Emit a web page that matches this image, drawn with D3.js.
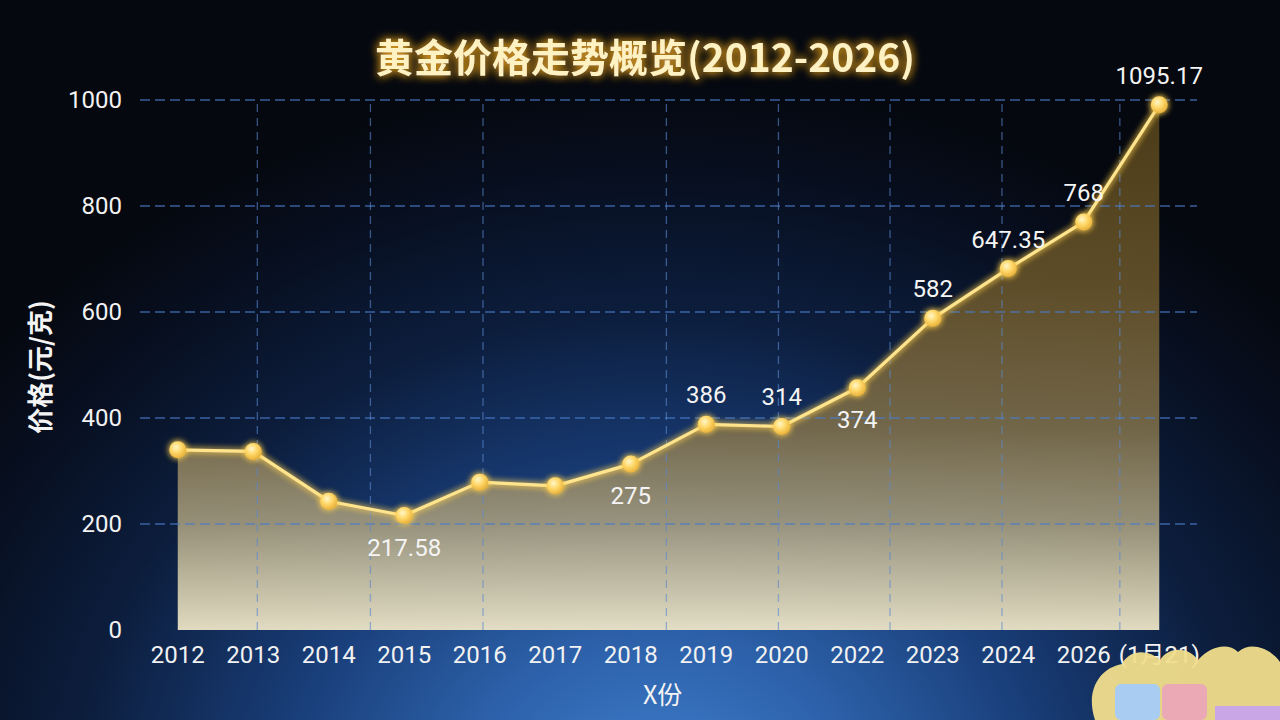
<!DOCTYPE html>
<html>
<head>
<meta charset="utf-8">
<script src="https://cdn.jsdelivr.net/npm/d3@7/dist/d3.min.js"></script>
<style>
  html, body { margin: 0; padding: 0; background: #060a14; overflow: hidden; }
  svg { display: block; }
</style>
</head>
<body>
<svg id="chart" width="1280" height="720"></svg>
<script>
// ---------------- DATA ----------------
const titleText = "黄金价格走势概览(2012-2026)";
const yAxisTitle = "价格(元/克)";
const xAxisTitle = "X份";
const categories = ["2012","2013","2014","2015","2016","2017","2018","2019","2020","2022","2023","2024","2026","(1月21)"];
const prices = [340, 337, 243, 216, 279, 272, 313, 388, 384, 457, 588, 682, 770, 991];
const valueLabels = ["", "", "", "217.58", "", "", "275", "386", "314", "374", "582", "647.35", "768", "1095.17"];
const labelSides = ["", "", "", "below", "", "", "below", "above", "above", "below", "above", "above", "above", "above"];
const yTicks = [0, 200, 400, 600, 800, 1000];
const yDomain = [0, 1000];

// ---------------- LAYOUT ----------------
const W = 1280, H = 720;
const plot = { left: 140, right: 1197, top: 100, bottom: 630 };
// vertical dashed grid lines, as fractions of the plot width
const vGridFractions = [0.111, 0.218, 0.3245, 0.498, 0.604, 0.7096, 0.8155, 0.927];

const svg = d3.select("#chart");
const defs = svg.append("defs");

// background
const bg = defs.append("radialGradient").attr("id", "bgGrad")
  .attr("gradientUnits", "userSpaceOnUse")
  .attr("cx", 660).attr("cy", 800).attr("r", 720)
  .attr("gradientTransform", "translate(660,800) scale(1.2,1) translate(-660,-800)");
[[0, "#4280d0"], [0.22, "#2d62ab"], [0.45, "#183c76"], [0.68, "#0c1d3c"], [0.88, "#070e1e"], [1, "#05080f"]]
  .forEach(([o, c]) => bg.append("stop").attr("offset", o).attr("stop-color", c));

// area gradient
const ag = defs.append("linearGradient").attr("id", "areaGrad")
  .attr("gradientUnits", "userSpaceOnUse")
  .attr("x1", 0).attr("y1", plot.top).attr("x2", 0).attr("y2", plot.bottom);
[[0, "#4e3d18", 0.95], [0.35, "#655229", 0.92], [0.62, "#7d6e4a", 0.9], [0.8, "#a59c7e", 0.9], [1, "#ece4c6", 0.95]]
  .forEach(([o, c, a]) => ag.append("stop").attr("offset", o).attr("stop-color", c).attr("stop-opacity", a));

// dot gradient
const dg = defs.append("radialGradient").attr("id", "dotGrad").attr("cx", "40%").attr("cy", "35%").attr("r", "65%");
[[0, "#fff6c8"], [0.5, "#ffd86a"], [1, "#e9b23a"]]
  .forEach(([o, c]) => dg.append("stop").attr("offset", o).attr("stop-color", c));

function glowFilter(id, color, std, opacity) {
  const f = defs.append("filter").attr("id", id)
    .attr("x", "-50%").attr("y", "-50%").attr("width", "200%").attr("height", "200%");
  f.append("feGaussianBlur").attr("in", "SourceAlpha").attr("stdDeviation", std).attr("result", "blur");
  f.append("feFlood").attr("flood-color", color).attr("flood-opacity", opacity).attr("result", "col");
  f.append("feComposite").attr("in", "col").attr("in2", "blur").attr("operator", "in").attr("result", "glow");
  const m = f.append("feMerge");
  m.append("feMergeNode").attr("in", "glow");
  m.append("feMergeNode").attr("in", "glow");
  m.append("feMergeNode").attr("in", "SourceGraphic");
}
glowFilter("titleGlow", "#f0a820", 5, 0.75);
glowFilter("lineGlow", "#ffd050", 3, 0.7);
glowFilter("axisGlow", "#ffe08a", 2.5, 0.6);

svg.append("rect").attr("width", W).attr("height", H).attr("fill", "url(#bgGrad)");

// ---------------- SCALES ----------------
const x = d3.scaleBand().domain(categories).range([plot.left, plot.right]).paddingInner(0).paddingOuter(0);
const cx = d => x(d) + x.bandwidth() / 2;
const y = d3.scaleLinear().domain(yDomain).range([plot.bottom, plot.top]);
const gx = d3.scaleLinear().domain([0, 1]).range([plot.left, plot.right]);

const data = categories.map((c, i) => ({ c, v: prices[i], label: valueLabels[i], side: labelSides[i] }));

// ---------------- AREA ----------------
const area = d3.area().x(d => cx(d.c)).y0(y(0)).y1(d => y(d.v));
svg.append("path").datum(data).attr("d", area).attr("fill", "url(#areaGrad)");

// ---------------- GRID ----------------
const grid = svg.append("g").attr("class", "grid");
grid.selectAll("line.h").data(yTicks.filter(t => t > 0)).join("line").attr("class", "h")
  .attr("x1", plot.left).attr("x2", plot.right)
  .attr("y1", d => y(d)).attr("y2", d => y(d))
  .attr("stroke", "#4a7bc8").attr("stroke-opacity", 0.75)
  .attr("stroke-width", 1.5).attr("stroke-dasharray", "10,5");
grid.selectAll("line.v").data(vGridFractions).join("line").attr("class", "v")
  .attr("x1", d => gx(d)).attr("x2", d => gx(d))
  .attr("y1", plot.top + 4).attr("y2", plot.bottom)
  .attr("stroke", "#5a88d0").attr("stroke-opacity", 0.6)
  .attr("stroke-width", 1.3).attr("stroke-dasharray", "8,6");

// ---------------- AXES ----------------
const yAxis = d3.axisLeft(y).tickValues(yTicks).tickFormat(d3.format("d")).tickSize(0).tickPadding(18);
const yg = svg.append("g").attr("transform", `translate(${plot.left},0)`).call(yAxis);
yg.select(".domain").remove();
yg.selectAll("text").attr("fill", "#f2f2f2").style("font-family", "Roboto, 'Noto Sans', sans-serif")
  .style("font-size", "24px");

const xAxis = d3.axisBottom(x).tickSize(0).tickPadding(16);
const xg = svg.append("g").attr("transform", `translate(0,${plot.bottom})`).call(xAxis);
xg.select(".domain").remove();
xg.selectAll("text").attr("fill", "#f2f2f2").style("font-family", "Roboto, 'Noto Sans CJK SC', sans-serif")
  .style("font-size", "24px");

// axis lines
svg.append("line").attr("x1", plot.left).attr("x2", plot.left).attr("y1", plot.top).attr("y2", plot.bottom)
  .attr("stroke", "#f6d77a").attr("stroke-width", 2.5).attr("filter", "url(#axisGlow)");
svg.append("line").attr("x1", plot.left).attr("x2", plot.right).attr("y1", plot.bottom).attr("y2", plot.bottom)
  .attr("stroke", "#fbe7a6").attr("stroke-width", 3).attr("filter", "url(#axisGlow)");

// ---------------- LINE + DOTS ----------------
const line = d3.line().x(d => cx(d.c)).y(d => y(d.v));
svg.append("path").datum(data).attr("d", line).attr("fill", "none")
  .attr("stroke", "#ffe48e").attr("stroke-width", 3.2).attr("stroke-linejoin", "round")
  .attr("filter", "url(#lineGlow)");
svg.append("g").selectAll("circle").data(data).join("circle")
  .attr("cx", d => cx(d.c)).attr("cy", d => y(d.v)).attr("r", 8.5)
  .attr("fill", "url(#dotGrad)").attr("filter", "url(#lineGlow)");

// ---------------- VALUE LABELS ----------------
svg.append("g").selectAll("text").data(data.filter(d => d.label)).join("text")
  .attr("x", d => cx(d.c))
  .attr("y", d => y(d.v) + (d.side === "below" ? 40 : -21))
  .attr("text-anchor", "middle")
  .attr("fill", "#f4f4f4")
  .style("font-family", "Roboto, 'Noto Sans', sans-serif").style("font-size", "24px")
  .text(d => d.label);

// ---------------- TITLES ----------------
svg.append("text").attr("x", 645).attr("y", 72).attr("text-anchor", "middle")
  .attr("fill", "#fff2c2").attr("filter", "url(#titleGlow)")
  .style("font-family", "'Noto Sans CJK SC', sans-serif").style("font-weight", "bold").style("font-size", "39px")
  .text(titleText);

svg.append("text").attr("transform", "translate(50,367) rotate(-90)").attr("text-anchor", "middle")
  .attr("fill", "#f4f4f4")
  .style("font-family", "'Noto Sans CJK SC', sans-serif").style("font-weight", "bold").style("font-size", "26px")
  .text(yAxisTitle);

svg.append("text").attr("x", 643).attr("y", 704).attr("text-anchor", "start")
  .attr("fill", "#f4f4f4")
  .style("font-family", "'Noto Sans CJK SC', sans-serif").style("font-size", "25px")
  .text(xAxisTitle);

// ---------------- DECORATIVE STICKER (bottom right) ----------------
const st = svg.append("g");
st.append("path")
  .attr("d", "M1095,720 C1085,690 1100,668 1122,664 C1130,648 1150,650 1160,660 C1170,645 1190,648 1198,660 C1210,646 1228,642 1238,652 C1252,640 1272,650 1280,662 L1280,720 Z")
  .attr("fill", "#f1de8c").attr("opacity", 0.95);
st.append("rect").attr("x", 1115).attr("y", 684).attr("width", 45).attr("height", 36).attr("rx", 6).attr("fill", "#a9cdf2");
st.append("rect").attr("x", 1162).attr("y", 684).attr("width", 45).attr("height", 36).attr("rx", 6).attr("fill", "#eba9b6");
st.append("rect").attr("x", 1215).attr("y", 706).attr("width", 65).attr("height", 14).attr("fill", "#c9a6e6");
</script>
</body>
</html>
